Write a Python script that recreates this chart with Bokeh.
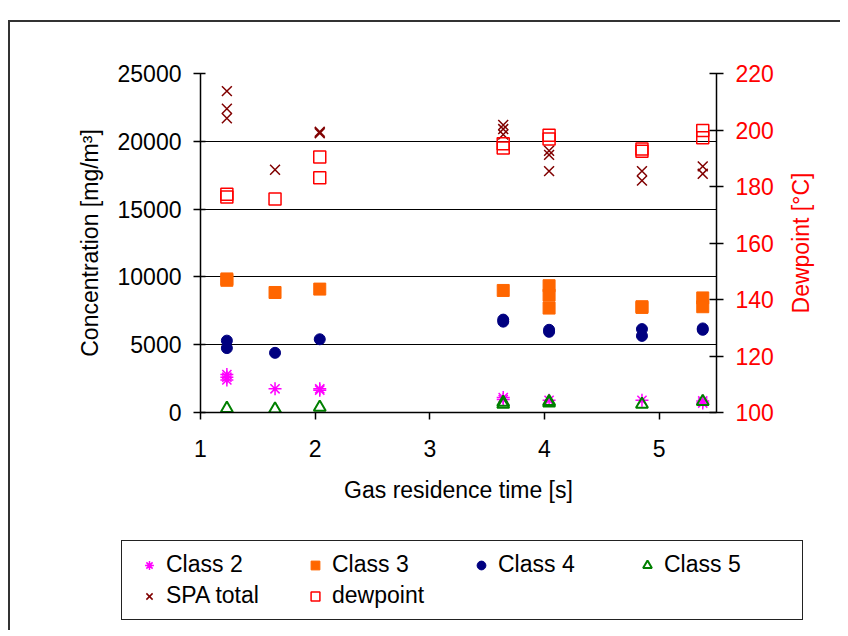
import math
from bokeh.plotting import figure
from bokeh.layouts import column, row
from bokeh.core.properties import value
from bokeh.models import Range1d, LinearAxis, FixedTicker, Legend, LegendItem
from bokeh.embed import file_html
from bokeh.resources import INLINE

# ---------------- data ----------------
x_ticks = [1, 2, 3, 4, 5]
y_ticks = [0, 5000, 10000, 15000, 20000, 25000]
dew_ticks = [100, 120, 140, 160, 180, 200, 220]

class2_x = [1.23, 1.23, 1.23, 1.65, 2.04, 2.04, 3.64, 3.64, 4.04, 4.85, 5.38, 5.38]
class2_y = [2800, 2600, 2400, 1750, 1750, 1650, 1100, 950, 900, 900, 850, 700]

class3_x = [1.23, 1.23, 1.65, 2.04, 3.64, 4.04, 4.04, 4.04, 4.85, 4.85, 5.38, 5.38]
class3_y = [9850, 9750, 8850, 9100, 9000, 9350, 8650, 7700, 7800, 7750, 8450, 7800]

class4_x = [1.23, 1.23, 1.65, 2.04, 3.64, 3.64, 4.04, 4.04, 4.85, 4.85, 5.38, 5.38]
class4_y = [5300, 4750, 4400, 5400, 6850, 6700, 6100, 5950, 6150, 5650, 6200, 6100]

class5_x = [1.23, 1.65, 2.04, 3.64, 3.64, 4.04, 4.04, 4.85, 5.38]
class5_y = [300, 250, 380, 600, 750, 700, 800, 600, 800]

spa_x = [1.23, 1.23, 1.23, 1.65, 2.04, 2.04, 3.64, 3.64, 3.64, 4.04, 4.04, 4.04, 4.85, 4.85, 5.38, 5.38]
spa_y = [23700, 22400, 21700, 17900, 20700, 20600, 21200, 20900, 20500, 19300, 19000, 17800, 17800, 17100, 18150, 17600]

dew_x = [1.23, 1.23, 1.65, 2.04, 2.04, 3.64, 3.64, 4.04, 4.04, 4.85, 4.85, 5.38, 5.38]
dew_y = [177.3, 176.3, 175.6, 190.4, 183.1, 195.1, 193.6, 198.1, 196.8, 193.3, 192.5, 199.8, 197.3]

labels = ["Class 2", "Class 3", "Class 4", "Class 5", "SPA total", "dewpoint"]
x_title = "Gas residence time [s]"
y_title = "Concentration [mg/m³]"
dew_title = "Dewpoint [°C]"

FONT = "Liberation Sans"
FS = "23px"
RED = "#FF0000"

styles = {
    "Class 2": dict(marker="asterisk", size=13, line_color="#FF00FF", line_width=1.5),
    "Class 3": dict(marker="square", size=12, fill_color="#FF6600", line_color="#FF6600", line_width=1),
    "Class 4": dict(marker="circle", size=11, fill_color="#000080", line_color="#000080"),
    "Class 5": dict(marker="triangle", size=12, fill_alpha=0, line_color="#008000", line_width=2),
    "SPA total": dict(marker="x", size=14, line_color="#800000", line_width=1.5),
    "dewpoint": dict(marker="square", size=12, fill_alpha=0, line_color=RED, line_width=1.5),
}

series = {
    "Class 2": (class2_x, class2_y, "default"),
    "Class 3": (class3_x, class3_y, "default"),
    "Class 4": (class4_x, class4_y, "default"),
    "Class 5": (class5_x, class5_y, "default"),
    "SPA total": (spa_x, spa_y, "default"),
    "dewpoint": (dew_x, dew_y, "dew"),
}

W = 830
TOP, FW, FH, BOT = 51, 516, 339, 126
RIGHT = 60
RW = 48

p = figure(output_backend="svg", toolbar_location=None,
           frame_width=FW, frame_height=FH,
           min_border_left=190, min_border_top=TOP, min_border_right=RIGHT,
           min_border_bottom=BOT,
           x_range=Range1d(1, 5.5), y_range=Range1d(0, 25000))
p.outline_line_color = None
p.background_fill_color = "white"
p.border_fill_color = "white"

p.extra_y_ranges = {"dew": Range1d(100, 220)}

xa = p.xaxis[0]
xa.ticker = FixedTicker(ticks=x_ticks)
xa.axis_label = x_title
xa.major_tick_in = 0
xa.major_tick_out = 7
xa.minor_tick_line_color = None
xa.major_label_standoff = 20
xa.axis_label_standoff = 17

ya = p.yaxis[0]
ya.ticker = FixedTicker(ticks=y_ticks)
ya.axis_label = y_title
ya.major_tick_in = 5
ya.major_tick_out = 7
ya.minor_tick_line_color = None
ya.major_label_standoff = 12
ya.axis_label_standoff = 12

yr = LinearAxis(y_range_name="dew", ticker=FixedTicker(ticks=dew_ticks))
yr.major_tick_in = 7
yr.major_tick_out = 7
yr.minor_tick_line_color = None
yr.major_label_standoff = 12
p.add_layout(yr, "right")

for ax in (xa, ya, yr):
    ax.axis_line_color = "black"
    ax.axis_line_width = 1.5
    ax.major_tick_line_color = "black"
    ax.major_tick_line_width = 1.5
    ax.major_label_text_font = FONT
    ax.major_label_text_font_size = FS
    ax.axis_label_text_font = FONT
    ax.axis_label_text_font_size = FS
    ax.axis_label_text_font_style = "normal"
    ax.major_label_text_color = "black"
    ax.axis_label_text_color = "black"
yr.major_label_text_color = RED

p.xgrid.visible = False
p.ygrid.ticker = FixedTicker(ticks=y_ticks)
p.ygrid.grid_line_color = "black"
p.ygrid.grid_line_width = 1.2

for name in labels:
    xs, ys, rng = series[name]
    p.scatter(xs, ys, y_range_name=rng, **styles[name])

# right-hand axis title (reads bottom-to-top, red)
rf = figure(output_backend="svg", toolbar_location=None,
            frame_width=RW, frame_height=FH,
            min_border_left=0, min_border_right=0, min_border_top=TOP, min_border_bottom=BOT,
            x_axis_location=None, y_axis_location=None,
            x_range=Range1d(0, 1), y_range=Range1d(0, 1))
rf.outline_line_color = None
rf.grid.visible = False
rf.text(x=[0.5], y=[0.5], text=[dew_title], angle=math.pi / 2,
        text_align="center", text_baseline="middle",
        text_font=value(FONT), text_font_size=value(FS), text_color=RED)

# legend panel underneath; its renderers carry the same series styles,
# their points fall outside this panel's ranges so only the legend shows
LH = 92
lf = figure(output_backend="svg", toolbar_location=None, width=W, height=LH,
            min_border_left=111, min_border_top=2, min_border_right=0, min_border_bottom=0,
            x_axis_location=None, y_axis_location=None,
            x_range=Range1d(-1, 0), y_range=Range1d(-1, 0))
lf.frame_align = False
lf.outline_line_color = None
lf.grid.visible = False
items = []
for name in labels:
    xs, ys, _ = series[name]
    r = lf.scatter(xs, ys, **styles[name])
    items.append(LegendItem(label=name, renderers=[r]))
legend = Legend(items=items, location="top_left", margin=0,
                orientation="horizontal", ncols=4,
                glyph_width=34, glyph_height=22, label_standoff=0, label_width=128,
                spacing=4, padding=10,
                label_text_font=FONT, label_text_font_size=FS, label_text_color="black",
                border_line_color="#222222", border_line_width=1.5, border_line_alpha=1,
                background_fill_color="white", background_fill_alpha=1)
lf.add_layout(legend, "center")

layout = column(row(p, rf, spacing=0), lf, spacing=0)
layout.margin = (20, 0, 0, 8)
layout.styles = {"border-left": "2px solid #333", "border-top": "2px solid #333"}

open("out.html", "w").write(file_html(layout, INLINE))
